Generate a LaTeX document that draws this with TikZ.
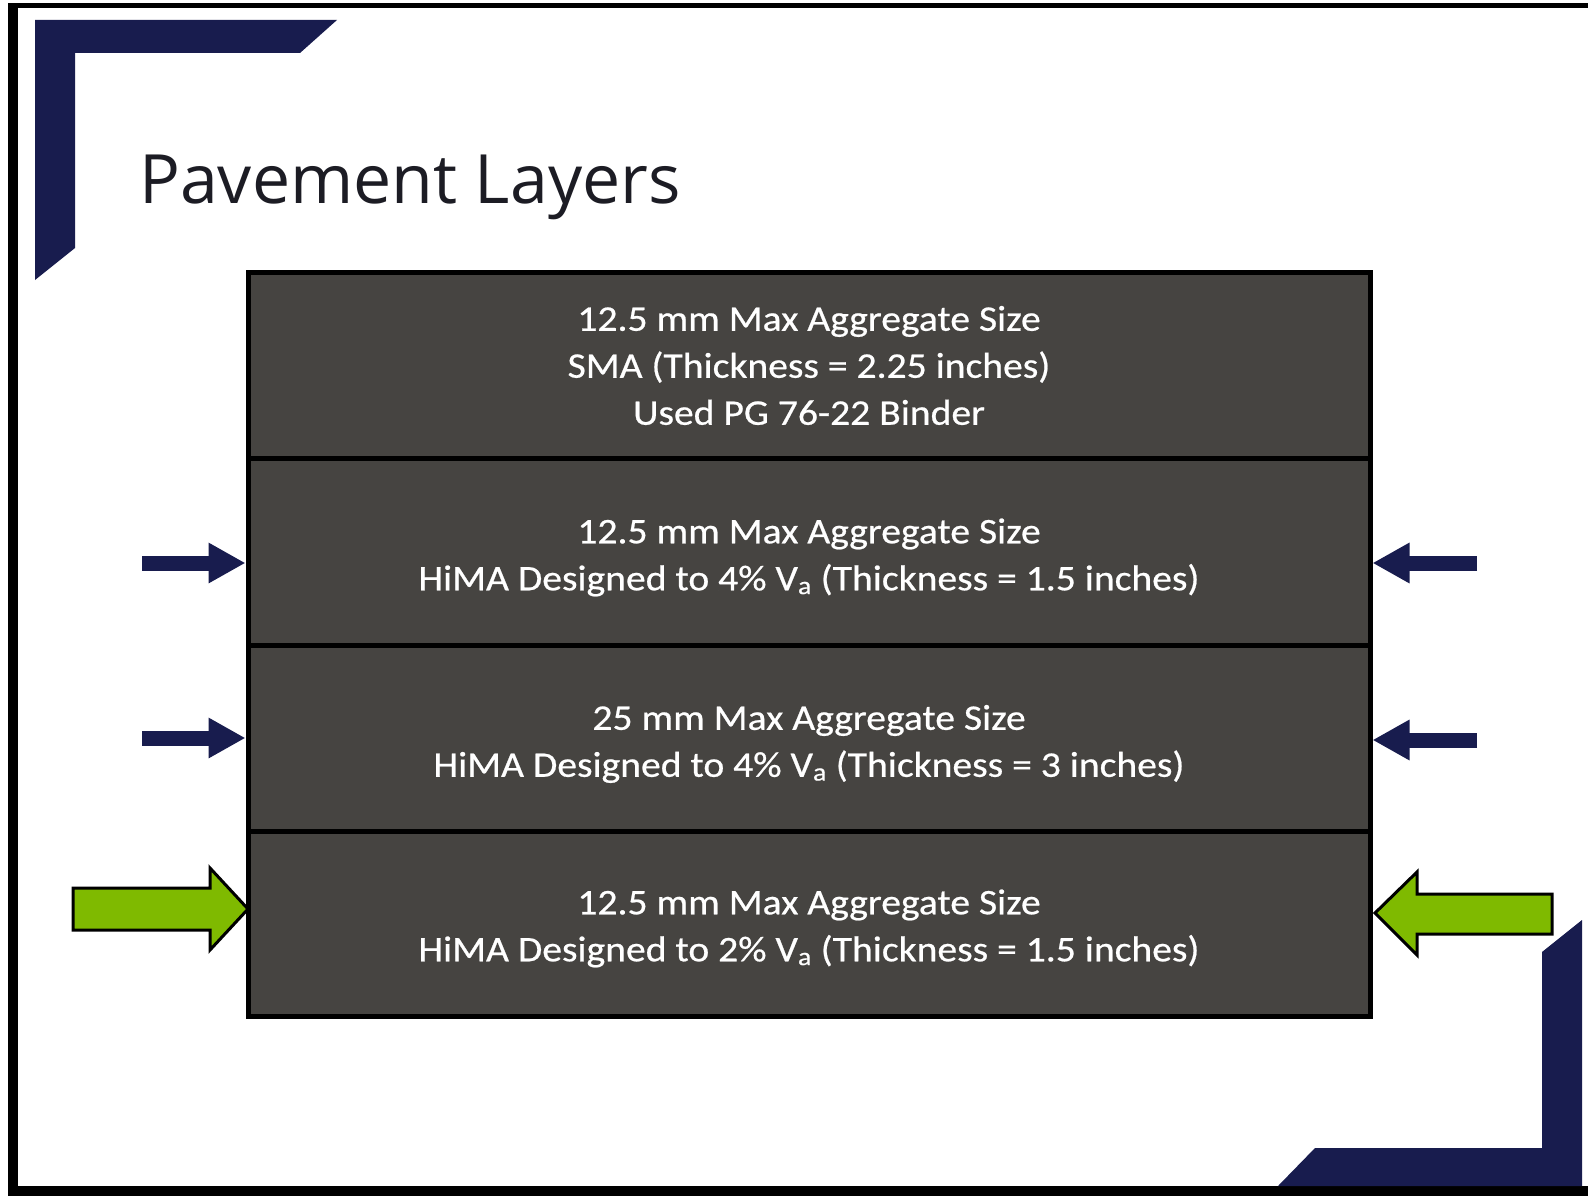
\documentclass[tikz,border=0pt]{standalone}
\usepackage{fontspec}
\setmainfont{Carlito}
\newfontfamily\layerfont[FakeStretch=1.1,FakeBold=0.6]{Carlito}
\newfontfamily\titlefont{Open Sans}
\usetikzlibrary{arrows.meta,calc}
\definecolor{navy}{RGB}{24,28,78}
\definecolor{slab}{RGB}{70,68,65}
\definecolor{leaf}{RGB}{127,186,0}
\definecolor{ink}{RGB}{28,28,36}
\tikzset{
  layer/.style={draw=black, line width=5pt, fill=slab, minimum width=1122pt, inner sep=0pt},
  layertext/.style={text=white, align=center, inner sep=0pt,
    font=\layerfont\fontsize{36}{47}\selectfont},
  navyarrow/.style={draw=navy, line width=15pt,
    -{Triangle[length=37pt,width=38pt]}},
  bigarrow/.style={fill=leaf, draw=black, line width=3pt, line join=miter},
  bracket/.style={fill=navy}
}
\begin{document}
\begin{tikzpicture}[x=1pt,y=-1pt]
\useasboundingbox (0,0) rectangle (1588,1196);
\fill[white] (0,0) rectangle (1588,1196);

% slide frame
\fill[black] (8,3) rectangle (1588,8);
\fill[black] (8,3) rectangle (18,1196);
\fill[black] (8,1186) rectangle (1588,1196);

% corner brackets
\fill[bracket] (35,20) -- (337,20) -- (300,53) -- (75,53) -- (75,248) -- (35,280) -- cycle;
\fill[bracket] (1582,920) -- (1582,1186) -- (1278,1186) -- (1315,1148) -- (1542,1148) -- (1542,952) -- cycle;

% title
\node[anchor=base west, text=ink, font=\titlefont\fontsize{68}{78}\selectfont, inner sep=0pt]
  (title) at (139,204) {Pavement Layers};

% pavement layers, top to bottom
\node[layer, minimum height=186pt] (l1) at (809,365) {};
\node[layer, minimum height=187pt] (l2) at (809,551.5) {};
\node[layer, minimum height=186pt] (l3) at (809,738) {};
\node[layer, minimum height=185pt] (l4) at (809,923.5) {};

\node[layertext] (t1) at ($(l1.center)+(0,0.5)$)
  {12.5 mm Max Aggregate Size\\SMA (Thickness = 2.25 inches)\\Used PG 76-22 Binder};
\node[layertext] (t2) at ($(l2.center)+(0,6)$)
  {12.5 mm Max Aggregate Size\\HiMA Designed to 4\% V\textsubscript{a} (Thickness = 1.5 inches)};
\node[layertext] (t3) at ($(l3.center)+(0,6)$)
  {25 mm Max Aggregate Size\\HiMA Designed to 4\% V\textsubscript{a} (Thickness = 3 inches)};
\node[layertext] (t4) at ($(l4.center)+(0,5)$)
  {12.5 mm Max Aggregate Size\\HiMA Designed to 2\% V\textsubscript{a} (Thickness = 1.5 inches)};

% markers on the HiMA layers
\coordinate (nl2) at (142,563);
\coordinate (nr2) at (1477,563);
\coordinate (nl3) at (142,738);
\coordinate (nr3) at (1477,740);
\draw[navyarrow] (nl2) -- (nl2 -| l2.west);
\draw[navyarrow] (nr2) -- (nr2 -| l2.east);
\draw[navyarrow] (nl3) -- (nl3 -| l3.west);
\draw[navyarrow] (nr3) -- (nr3 -| l3.east);

% block arrows on the bottom layer
\draw[bigarrow] (73,888) -- (210,888) -- (210,868) -- (248,909) -- (210,950) -- (210,930) -- (73,930) -- cycle;
\draw[bigarrow] (1552,894) -- (1417,894) -- (1417,872) -- (1375,913) -- (1417,955) -- (1417,934) -- (1552,934) -- cycle;
\end{tikzpicture}
\end{document}
